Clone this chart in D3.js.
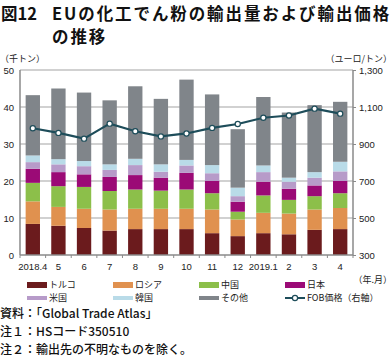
<!DOCTYPE html>
<html>
<head>
<meta charset="utf-8">
<script src="https://cdn.jsdelivr.net/npm/d3@7"></script>
<style>
  body { margin: 0; background: #fff; }
  svg { display: block; font-family: "Noto Sans CJK JP", "Noto Sans", sans-serif; }
</style>
</head>
<body>
<svg id="chart" width="392" height="363"></svg>
<script>
// months on the x axis
const months = ['2018.4', '5', '6', '7', '8', '9', '10', '11', '12', '2019.1', '2', '3', '4'];

// export volume by destination (thousand tonnes)
const turkey = [8.4, 7.9, 7.3, 6.6, 7.0, 7.0, 7.0, 5.9, 5.1, 5.9, 5.6, 6.8, 7.0];
const russia = [6.1, 5.1, 5.2, 5.7, 5.5, 5.5, 5.5, 6.4, 4.5, 5.5, 5.6, 5.5, 5.7];
const china = [5.0, 5.6, 5.9, 5.0, 5.2, 4.9, 5.2, 4.4, 2.1, 4.7, 3.7, 3.6, 4.0];
const japan = [3.8, 3.8, 3.4, 3.8, 3.9, 3.5, 4.5, 3.3, 2.7, 3.7, 3.0, 2.9, 3.3];
const usa = [1.8, 2.1, 2.2, 1.9, 2.7, 1.6, 2.0, 2.1, 1.5, 2.6, 1.9, 2.1, 2.6];
const korea = [1.8, 1.4, 1.4, 1.5, 1.7, 2.0, 1.5, 2.2, 2.3, 1.8, 1.1, 1.5, 2.6];
const others = [16.3, 19.1, 18.5, 17.3, 19.6, 17.7, 21.7, 19.1, 15.8, 18.5, 17.6, 18.1, 16.2];

// FOB price (euro / tonne, right axis)
const fobPrice = [985, 960, 929, 1010, 969, 941, 957, 987, 1008, 1042, 1054, 1091, 1064];

const leftTicks = [0, 10, 20, 30, 40, 50];
const rightTicks = [300, 500, 700, 900, 1100, 1300];

const series = [
    { key: 'turkey', name: 'トルコ', values: turkey, color: '#6b1b1d' },
    { key: 'russia', name: 'ロシア', values: russia, color: '#e0914f' },
    { key: 'china', name: '中国', values: china, color: '#8cbf4a' },
    { key: 'japan', name: '日本', values: japan, color: '#9b0a76' },
    { key: 'usa', name: '米国', values: usa, color: '#b79bc9' },
    { key: 'korea', name: '韓国', values: korea, color: '#b9dbe8' },
    { key: 'others', name: 'その他', values: others, color: '#80858a' }
];

const svg = d3.select('#chart');
const plotLeft = 20, plotRight = 353, plotTop = 70, plotBottom = 255;

// title
const title = svg.append('g').attr('font-weight', 'bold').attr('fill', '#111').attr('font-size', 16.5);
title.append('text').attr('x', 1).attr('y', 19.5).text('図12');
title.append('text').attr('x', 52).attr('y', 19.5)
    .attr('letter-spacing', 1.9).text('EUの化工でん粉の輸出量および輸出価格');
title.append('text').attr('x', 52).attr('y', 43)
    .attr('letter-spacing', 1.9).text('の推移');

// scales
const x = d3.scaleBand().domain(months).range([plotLeft, plotRight]).paddingInner(0.44).paddingOuter(0.22);
const y = d3.scaleLinear().domain([0, 50]).range([plotBottom, plotTop]);
const y2 = d3.scaleLinear().domain([300, 1300]).range([plotBottom, plotTop]);

// gridlines
svg.append('g')
    .selectAll('line')
    .data(leftTicks.slice(1))
    .join('line')
    .attr('x1', plotLeft).attr('x2', plotRight)
    .attr('y1', d => y(d)).attr('y2', d => y(d))
    .attr('stroke', '#a3a3a3').attr('stroke-width', 1);

// stacked bars
const table = months.map((m, i) => {
    const row = { month: m };
    series.forEach(s => { row[s.key] = s.values[i]; });
    return row;
});
const stack = d3.stack().keys(series.map(s => s.key))(table);

svg.append('g')
    .selectAll('g')
    .data(stack)
    .join('g')
    .attr('fill', (d, i) => series[i].color)
    .selectAll('rect')
    .data(d => d)
    .join('rect')
    .attr('x', d => x(d.data.month))
    .attr('width', x.bandwidth())
    .attr('y', d => y(d[1]))
    .attr('height', d => y(d[0]) - y(d[1]));

// axes
const axisColor = '#8a8a8a';
const leftAxis = svg.append('g')
    .attr('transform', `translate(${plotLeft},0)`)
    .call(d3.axisLeft(y).tickValues(leftTicks).tickSize(0).tickPadding(6));
const rightAxis = svg.append('g')
    .attr('transform', `translate(${plotRight},0)`)
    .call(d3.axisRight(y2).tickValues(rightTicks).tickSize(3).tickPadding(3).tickFormat(d3.format(',')));
const bottomAxis = svg.append('g')
    .attr('transform', `translate(0,${plotBottom})`)
    .call(d3.axisBottom(x).tickSize(0).tickPadding(8));

[leftAxis, rightAxis, bottomAxis].forEach(a => {
    a.select('.domain').attr('stroke', axisColor).attr('stroke-width', 1.5);
    a.selectAll('.tick line').attr('stroke', axisColor);
    a.selectAll('text').attr('fill', '#222').attr('font-size', 9.5).attr('font-family', '"Liberation Sans", Arial, sans-serif');
});
leftAxis.select('.domain').attr('d', `M0,${plotTop}V${plotBottom}`);
rightAxis.select('.domain').attr('d', `M0,${plotTop}V${plotBottom}`);
bottomAxis.select('.domain').attr('d', `M${plotLeft},0H${plotRight}`);

// small ticks between months
const step = x.step();
const firstEdge = plotLeft + (plotRight - plotLeft - step * months.length) / 2;
svg.append('g')
    .selectAll('line')
    .data(d3.range(months.length + 1))
    .join('line')
    .attr('x1', i => firstEdge + i * step)
    .attr('x2', i => firstEdge + i * step)
    .attr('y1', plotBottom).attr('y2', plotBottom + 3)
    .attr('stroke', axisColor);

// FOB price line
const line = d3.line()
    .x((d, i) => x(months[i]) + x.bandwidth() / 2)
    .y(d => y2(d));
svg.append('path')
    .datum(fobPrice)
    .attr('d', line)
    .attr('fill', 'none')
    .attr('stroke', '#1e4d5a')
    .attr('stroke-width', 2.2);
svg.append('g')
    .selectAll('circle')
    .data(fobPrice)
    .join('circle')
    .attr('cx', (d, i) => x(months[i]) + x.bandwidth() / 2)
    .attr('cy', d => y2(d))
    .attr('r', 2.6)
    .attr('fill', '#fff')
    .attr('stroke', '#1e4d5a')
    .attr('stroke-width', 1.2);

// unit labels
const unit = svg.append('g').attr('font-size', 9).attr('fill', '#222');
unit.append('text').attr('x', 0).attr('y', 62).text('（千トン）');
unit.append('text').attr('x', 392).attr('y', 62).attr('text-anchor', 'end').text('（ユーロ/トン）');
unit.append('text').attr('x', 392).attr('y', 283).attr('text-anchor', 'end').text('（年.月）');

// legend
const legendCols = [27, 113, 199, 285];
const legendRows = [285, 298];
const legend = svg.append('g').attr('font-size', 9).attr('fill', '#222');
series.forEach((s, i) => {
    const row = Math.floor(i / 4), col = i % 4;
    const ly = legendRows[row];
    const h = row === 0 ? 6 : 4;
    legend.append('rect')
        .attr('x', legendCols[col]).attr('y', ly - h / 2)
        .attr('width', 20).attr('height', h)
        .attr('fill', s.color);
    legend.append('text')
        .attr('x', legendCols[col] + 22).attr('y', ly).attr('dy', '0.35em')
        .text(s.name);
});
legend.append('line')
    .attr('x1', legendCols[3]).attr('x2', legendCols[3] + 20)
    .attr('y1', legendRows[1]).attr('y2', legendRows[1])
    .attr('stroke', '#1e4d5a').attr('stroke-width', 2);
legend.append('circle')
    .attr('cx', legendCols[3] + 10).attr('cy', legendRows[1]).attr('r', 2.6)
    .attr('fill', '#fff').attr('stroke', '#1e4d5a').attr('stroke-width', 1.2);
legend.append('text')
    .attr('x', legendCols[3] + 22).attr('y', legendRows[1]).attr('dy', '0.35em')
    .text('FOB価格（右軸）');

// notes
const notes = ['資料：「Global Trade Atlas」', '注１：HSコード350510', '注２：輸出先の不明なものを除く。'];
svg.append('g')
    .attr('font-size', 12).attr('font-weight', 500).attr('fill', '#111')
    .selectAll('text')
    .data(notes)
    .join('text')
    .attr('x', 0)
    .attr('y', (d, i) => 318 + i * 18)
    .text(d => d);
</script>
</body>
</html>
